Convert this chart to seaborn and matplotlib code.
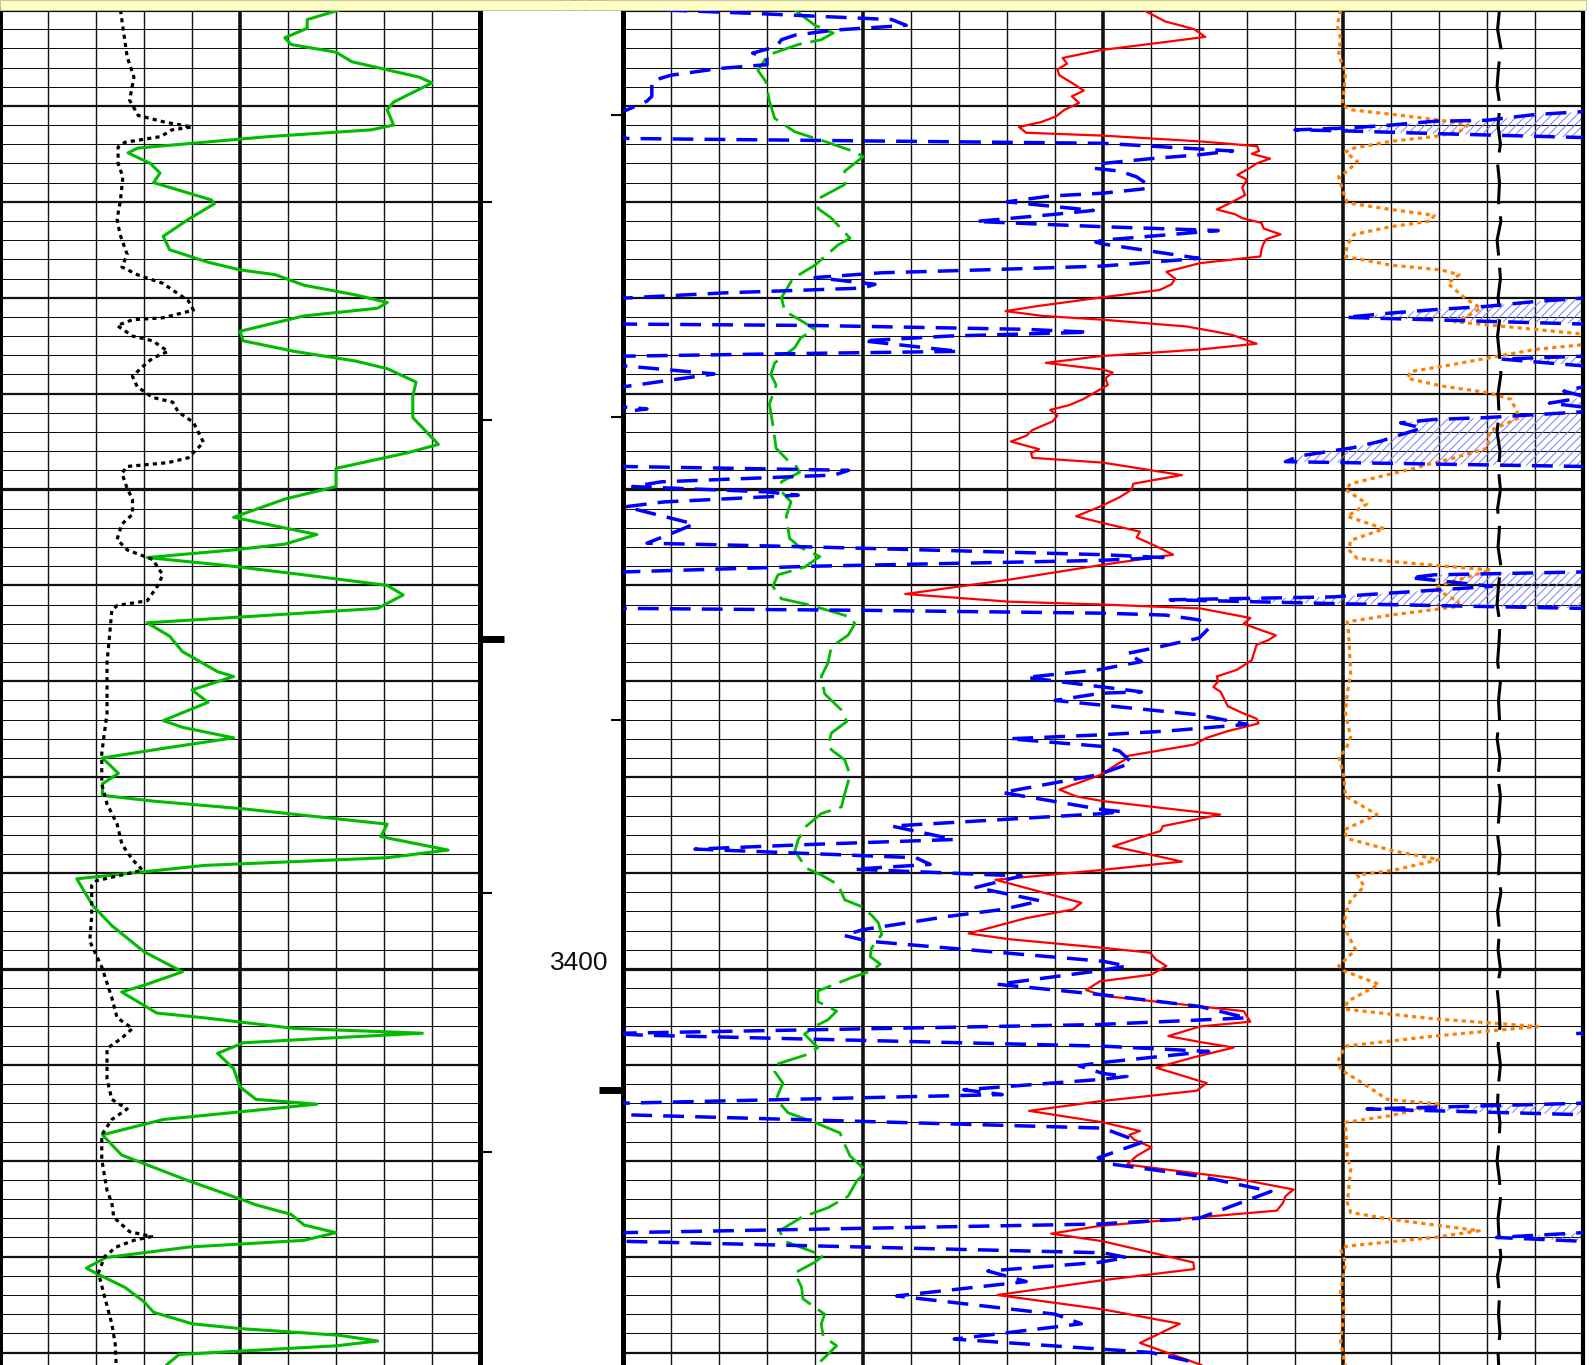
import numpy as np
import pandas as pd
import matplotlib
matplotlib.use("Agg")
import matplotlib.pyplot as plt
from matplotlib.patches import Rectangle
import seaborn as sns

sns.set_style("white")
plt.rcParams["font.family"] = ["Liberation Sans", "DejaVu Sans"]
plt.rcParams["hatch.linewidth"] = 0.7

TOP, BASE = 3300.0, 3441.3

# ---------------- Track 1: gamma ray (API 0-150) and caliper (in 6-16) ----------------
gr_log = [
    (3300.0, 106), (3301.0, 96), (3301.9, 96), (3302.9, 89), (3303.6, 91), (3304.4, 105),
    (3305.4, 110), (3307.0, 131), (3307.6, 135), (3309.6, 123), (3310.4, 121), (3312.0, 123),
    (3312.5, 116), (3313.2, 84), (3314.4, 43), (3314.9, 40), (3316.0, 47), (3317.0, 50),
    (3318.0, 48), (3319.8, 66), (3320.2, 67), (3321.8, 59), (3323.6, 51), (3325.0, 53),
    (3326.3, 65), (3327.1, 75), (3327.6, 86), (3328.7, 95), (3329.7, 111), (3330.5, 121),
    (3331.1, 118), (3331.9, 95), (3333.5, 75), (3334.5, 76), (3335.6, 92), (3336.6, 111),
    (3337.4, 121), (3338.8, 130), (3340.3, 129), (3342.5, 129), (3345.3, 137), (3346.2, 127),
    (3347.8, 105), (3349.7, 105), (3351.0, 89), (3352.9, 73), (3353.6, 83), (3354.7, 99),
    (3355.7, 89), (3356.3, 73), (3357.1, 46), (3357.9, 70), (3358.9, 95), (3360.0, 121),
    (3361.0, 126), (3362.4, 118), (3363.2, 80), (3363.9, 46), (3365.3, 53), (3366.9, 57),
    (3369.0, 68), (3369.5, 73), (3370.9, 60), (3372.2, 65), (3374.1, 51), (3374.8, 57),
    (3375.9, 73), (3377.0, 51), (3378.0, 32), (3379.6, 37), (3380.7, 32), (3381.9, 32),
    (3382.5, 48), (3383.3, 76), (3384.9, 121), (3386.2, 119), (3387.6, 140), (3388.4, 121),
    (3389.2, 64), (3390.6, 24), (3393.4, 29), (3395.5, 35), (3398.2, 45), (3400.3, 57),
    (3401.7, 45), (3402.4, 38), (3404.6, 49), (3405.1, 64), (3406.2, 92), (3406.7, 132),
    (3407.2, 103), (3407.7, 76), (3408.8, 68), (3410.4, 73), (3412.3, 75), (3413.6, 80),
    (3414.1, 99), (3415.7, 51), (3417.3, 32), (3419.4, 38), (3422.1, 59), (3424.1, 76),
    (3424.6, 80), (3425.6, 91), (3426.7, 95), (3427.5, 105), (3428.3, 95), (3429.0, 59),
    (3430.1, 33), (3431.2, 27), (3431.9, 31), (3433.2, 39), (3434.7, 45), (3435.8, 48),
    (3437.0, 60), (3437.5, 75), (3438.2, 106), (3438.8, 118), (3439.3, 105), (3440.2, 56),
    (3441.3, 52),
]

cal_log = [
    (3300.0, 8.51), (3301.8, 8.56), (3304.9, 8.65), (3307.0, 8.79), (3309.4, 8.70), (3311.0, 8.88),
    (3311.7, 9.44), (3312.2, 10.0), (3312.5, 9.58), (3313.2, 9.35), (3313.8, 8.60), (3314.3, 8.46),
    (3316.0, 8.46), (3317.4, 8.56), (3319.8, 8.51), (3321.8, 8.44), (3323.4, 8.50), (3325.5, 8.65),
    (3326.8, 8.54), (3327.6, 8.86), (3328.5, 9.39), (3330.3, 9.92), (3331.3, 10.03), (3332.1, 9.39),
    (3332.3, 8.76), (3332.9, 8.44), (3334.0, 8.76), (3334.5, 9.18), (3335.6, 9.50), (3336.3, 9.18),
    (3337.2, 8.97), (3338.2, 8.76), (3339.3, 8.86), (3340.4, 9.18), (3340.9, 9.60), (3341.9, 9.71),
    (3343.0, 10.03), (3345.1, 10.24), (3346.7, 9.92), (3347.2, 9.50), (3347.6, 8.65), (3348.3, 8.54),
    (3349.9, 8.65), (3351.0, 8.76), (3352.6, 8.76), (3353.6, 8.54), (3355.2, 8.44), (3356.3, 8.65),
    (3357.3, 9.18), (3358.9, 9.39), (3360.0, 9.29), (3361.6, 9.07), (3362.1, 8.44), (3362.6, 8.33),
    (3364.8, 8.29), (3368.0, 8.23), (3373.3, 8.23), (3377.5, 8.12), (3380.7, 8.12), (3382.8, 8.23),
    (3384.9, 8.44), (3387.0, 8.54), (3388.6, 8.76), (3389.7, 8.97), (3390.8, 8.01), (3391.3, 7.91),
    (3394.5, 7.91), (3397.1, 7.87), (3399.8, 8.12), (3403.0, 8.33), (3405.1, 8.44), (3406.2, 8.76),
    (3407.2, 8.54), (3408.3, 8.23), (3411.5, 8.23), (3413.6, 8.33), (3414.6, 8.65), (3415.7, 8.33),
    (3417.3, 8.12), (3419.9, 8.12), (3423.1, 8.23), (3424.4, 8.33), (3425.9, 8.37), (3427.4, 8.70),
    (3427.9, 9.16), (3428.3, 8.79), (3429.0, 8.42), (3430.0, 8.18), (3431.7, 8.05), (3434.2, 8.18),
    (3437.0, 8.33), (3439.1, 8.40), (3441.3, 8.42),
]

# ---------------- Track 2: 20 scale divisions ----------------
# red solid curve
red_log = [
    (3300.0, 10.84), (3301.2, 11.3), (3302.0, 11.9), (3302.8, 12.13), (3303.4, 11.2), (3304.2, 9.93),
    (3305.0, 9.16), (3305.6, 9.25), (3306.2, 9.05), (3306.8, 9.09), (3307.6, 9.35), (3308.4, 9.6),
    (3309.0, 9.35), (3309.4, 9.44), (3309.7, 9.5), (3310.4, 9.2), (3311.1, 9.02), (3311.7, 8.7),
    (3312.2, 8.25), (3312.8, 8.4), (3313.1, 10.0), (3313.7, 12.02), (3314.2, 13.21), (3314.7, 13.25),
    (3315.0, 13.1), (3315.5, 13.48), (3316.0, 13.2), (3316.5, 13.05), (3317.2, 12.8), (3317.7, 13.0),
    (3318.5, 12.9), (3319.3, 12.96), (3320.0, 12.7), (3320.8, 12.37), (3321.3, 12.75), (3321.7, 12.9),
    (3322.2, 13.3), (3322.8, 13.35), (3323.4, 13.7), (3323.9, 13.4), (3324.4, 13.34), (3325.0, 13.3),
    (3325.7, 13.28), (3326.4, 12.02), (3327.3, 11.32), (3328.0, 11.5), (3328.6, 11.43), (3329.2, 11.18),
    (3330.0, 9.93), (3330.9, 8.6), (3331.4, 7.97), (3331.9, 8.74), (3332.3, 10.0), (3333.0, 11.74),
    (3333.6, 12.4), (3333.9, 12.7), (3334.8, 13.2), (3335.4, 12.02), (3336.1, 9.93), (3336.8, 8.81),
    (3337.5, 10.0), (3337.8, 10.2), (3338.4, 10.05), (3339.1, 10.1), (3339.8, 9.86), (3340.6, 9.58),
    (3341.2, 9.3), (3341.7, 8.9), (3342.3, 9.05), (3342.9, 8.95), (3343.8, 8.53), (3344.4, 8.4),
    (3345.0, 8.08), (3345.8, 8.67), (3346.2, 8.5), (3346.7, 8.53), (3347.2, 10.0), (3348.5, 11.64),
    (3349.4, 10.63), (3350.0, 10.6), (3350.8, 10.35), (3351.8, 9.93), (3352.8, 9.44), (3353.5, 10.0),
    (3354.4, 10.77), (3355.0, 10.7), (3355.9, 11.1), (3356.8, 11.46), (3357.9, 9.93), (3359.4, 8.05),
    (3360.9, 5.88), (3361.7, 8.05), (3362.0, 10.0), (3362.4, 12.02), (3363.4, 13.07), (3364.0, 12.93),
    (3364.5, 13.2), (3365.2, 13.6), (3365.7, 13.45), (3366.2, 13.2), (3367.0, 13.15), (3367.8, 13.1),
    (3368.8, 12.79), (3369.5, 12.37), (3370.0, 12.4), (3370.6, 12.3), (3371.1, 12.45), (3371.6, 12.5),
    (3372.6, 12.6), (3373.3, 12.9), (3373.9, 13.2), (3374.4, 13.24), (3375.2, 12.6), (3375.9, 12.16),
    (3376.6, 11.9), (3377.8, 10.5), (3378.2, 10.45), (3378.7, 10.28), (3379.8, 9.93), (3381.3, 9.09),
    (3382.0, 9.44), (3382.5, 10.0), (3383.9, 12.44), (3385.1, 11.25), (3385.6, 11.2), (3387.2, 10.21),
    (3388.8, 11.64), (3389.7, 9.93), (3390.7, 7.76), (3393.1, 9.55), (3393.8, 9.37), (3394.7, 8.4),
    (3396.3, 7.2), (3396.9, 8.05), (3397.8, 10.0), (3398.3, 10.98), (3399.0, 11.1), (3399.7, 11.32),
    (3400.6, 11.0), (3401.3, 9.93), (3402.2, 9.65), (3402.8, 10.0), (3403.9, 12.02), (3404.4, 12.93),
    (3405.5, 13.07), (3406.0, 12.02), (3407.0, 11.36), (3407.6, 12.0), (3408.2, 12.72), (3409.2, 11.9),
    (3410.3, 11.11), (3411.9, 12.16), (3412.7, 11.95), (3413.8, 9.93), (3414.8, 8.46), (3416.0, 10.0),
    (3416.9, 10.77), (3417.3, 10.55), (3417.8, 10.65), (3418.6, 11.01), (3419.5, 10.7), (3420.4, 10.5),
    (3421.8, 12.72), (3423.0, 13.97), (3423.7, 13.8), (3424.4, 13.75), (3425.2, 13.62), (3426.8, 9.93),
    (3427.6, 8.92), (3428.4, 10.0), (3430.6, 11.88), (3431.3, 11.9), (3432.5, 9.93), (3434.0, 7.8),
    (3435.5, 10.0), (3437.0, 11.6), (3439.0, 10.77), (3441.3, 12.05),
]

# blue dashed curve; values below 0 wrap round to the right-hand side
blue_log = [
    (3300.0, 0.9), (3300.35, 2.7), (3301.0, 5.6), (3301.6, 5.9), (3302.1, 4.4), (3302.6, 3.6),
    (3303.1, 3.3), (3303.8, 3.2), (3304.5, 2.7), (3305.0, 3.0), (3305.7, 3.0), (3306.1, 2.0),
    (3306.8, 1.0), (3307.4, 0.6), (3308.2, 0.6), (3309.0, 0.6), (3309.5, 0.5), (3310.6, 0.0),
    (3310.9, -1.0), (3311.5, -2.0), (3311.6, -3.1), (3312.0, -4.0), (3312.3, -4.9), (3312.5, -6.0),
    (3312.6, -5.0), (3312.9, -3.0), (3313.3, 0.0), (3313.4, 0.1), (3313.9, 10.0), (3314.7, 12.7),
    (3315.1, 12.0), (3315.5, 11.0), (3316.0, 10.0), (3316.5, 9.8), (3316.8, 10.35), (3317.4, 10.7),
    (3318.1, 10.9), (3318.6, 10.95), (3319.1, 10.0), (3319.4, 8.9), (3320.0, 8.0), (3320.9, 9.8),
    (3321.35, 8.9), (3322.05, 7.35), (3322.6, 10.0), (3323.0, 12.4), (3324.0, 10.0), (3324.2, 9.85),
    (3324.4, 10.0), (3325.9, 12.0), (3326.7, 10.0), (3327.1, 7.5), (3327.4, 5.4), (3327.9, 4.0),
    (3328.6, 5.25), (3329.0, 5.0), (3329.5, 2.1), (3330.05, 0.0), (3330.4, -1.0), (3330.9, -2.0),
    (3331.25, -3.1), (3331.6, -4.0), (3332.05, -4.95), (3332.4, -2.5), (3332.75, 0.0), (3332.9, 4.0),
    (3333.3, 8.4), (3333.6, 9.7), (3334.0, 6.8), (3334.5, 5.0), (3335.6, 7.0), (3335.8, 4.0),
    (3336.1, 0.0), (3336.4, -1.7), (3337.1, 0.0), (3337.95, 1.9), (3339.3, 0.0), (3339.75, -0.4),
    (3340.2, -0.05), (3340.5, -0.1), (3341.0, -0.7), (3341.4, 0.0), (3341.6, 0.5), (3341.9, 0.0),
    (3342.5, -2.0), (3342.7, -3.1), (3343.05, -3.8), (3343.6, -3.35), (3344.6, -4.0), (3344.95, -4.2),
    (3345.65, -4.8), (3346.5, -5.9), (3347.1, -6.2), (3347.6, 0.0), (3348.0, 4.7), (3348.5, 4.4),
    (3349.2, 0.8), (3349.7, 0.2), (3350.25, 3.0), (3350.6, 3.65), (3351.3, 0.85), (3351.8, 0.05),
    (3353.6, 1.48), (3354.2, 1.2), (3355.6, 0.5), (3356.0, 4.0), (3356.8, 10.0), (3357.1, 11.25),
    (3357.4, 9.9), (3358.0, 4.0), (3358.6, 0.0), (3358.9, -3.1), (3359.2, -3.6), (3360.1, -1.9),
    (3360.5, -3.1), (3361.2, -5.2), (3361.5, -8.6), (3361.9, -5.2), (3362.4, 0.0), (3362.6, 5.0),
    (3362.9, 10.0), (3363.1, 11.3), (3363.6, 12.0), (3364.5, 12.2), (3365.5, 12.0), (3366.6, 11.0),
    (3367.1, 10.5), (3367.95, 10.8), (3368.8, 9.9), (3369.6, 8.4), (3370.6, 10.0), (3371.1, 10.8),
    (3371.25, 9.95), (3372.0, 9.0), (3372.5, 10.0), (3373.5, 12.0), (3374.5, 13.0), (3375.2, 11.3),
    (3375.6, 9.9), (3376.0, 8.05), (3376.8, 10.0), (3377.3, 10.35), (3378.5, 10.6), (3379.75, 9.9),
    (3381.6, 7.9), (3383.4, 10.0), (3383.6, 10.4), (3383.8, 10.0), (3385.1, 5.6), (3386.5, 6.9),
    (3387.0, 4.0), (3387.5, 1.5), (3388.4, 6.1), (3389.1, 6.4), (3389.6, 4.8), (3390.3, 8.3),
    (3391.5, 7.35), (3392.9, 8.7), (3393.8, 7.9), (3394.5, 6.8), (3395.9, 5.0), (3396.5, 4.6),
    (3397.1, 5.1), (3399.2, 10.0), (3399.7, 10.5), (3400.2, 9.9), (3401.6, 7.8), (3402.7, 10.0),
    (3403.9, 12.0), (3405.1, 13.0), (3405.8, 9.9), (3406.7, 0.0), (3406.75, -0.2), (3406.9, 0.4),
    (3408.05, 10.0), (3408.6, 12.2), (3409.8, 9.9), (3410.1, 9.5), (3410.9, 10.0), (3411.2, 10.5),
    (3411.5, 10.0), (3412.6, 7.1), (3413.1, 7.9), (3414.0, 0.0), (3414.6, -4.5), (3415.2, 0.0),
    (3416.6, 10.0), (3418.1, 10.8), (3419.7, 9.9), (3420.3, 10.1), (3421.6, 12.0), (3423.2, 13.5),
    (3426.0, 12.0), (3426.6, 9.9), (3427.5, 0.0), (3428.0, -1.8), (3428.4, 0.0), (3429.6, 10.0),
    (3430.1, 10.5), (3430.6, 9.9), (3431.5, 7.6), (3432.6, 8.4), (3434.1, 5.7), (3436.0, 9.0),
    (3437.0, 9.55), (3438.6, 6.9), (3439.65, 10.0), (3440.0, 11.0), (3440.9, 11.8), (3441.3, 12.0),
]

# green dashed curve
green_log = [
    (3300.0, 3.58), (3301.6, 4.0), (3302.4, 4.38), (3303.1, 4.13), (3303.6, 3.65), (3304.7, 3.02),
    (3306.3, 2.81), (3307.5, 2.98), (3309.5, 3.05), (3311.3, 3.16), (3312.7, 3.58), (3313.7, 4.2),
    (3314.8, 4.83), (3315.3, 5.0), (3316.1, 4.8), (3316.8, 4.62), (3318.2, 4.62), (3319.6, 4.1),
    (3320.7, 4.06), (3321.7, 4.34), (3323.8, 4.73), (3324.5, 4.48), (3326.6, 4.0), (3328.0, 3.54),
    (3330.0, 3.3), (3331.4, 3.37), (3332.6, 3.78), (3333.3, 3.99), (3334.2, 3.7), (3335.2, 3.58),
    (3336.8, 3.16), (3338.0, 3.08), (3339.1, 3.19), (3341.1, 3.05), (3343.2, 3.12), (3345.7, 3.19),
    (3346.9, 3.42), (3347.6, 3.61), (3348.2, 3.68), (3349.2, 3.3), (3350.2, 3.3), (3351.3, 3.5),
    (3352.8, 3.4), (3355.1, 3.47), (3356.0, 3.68), (3357.0, 4.1), (3358.1, 3.78), (3358.9, 3.23),
    (3360.1, 3.12), (3361.4, 3.3), (3362.0, 3.85), (3362.7, 4.34), (3363.3, 4.73), (3364.0, 4.83),
    (3365.2, 4.69), (3366.4, 4.34), (3368.1, 4.27), (3369.5, 4.13), (3371.3, 4.2), (3373.0, 4.55),
    (3374.2, 4.66), (3375.4, 4.34), (3376.8, 4.27), (3377.3, 4.38), (3378.2, 4.62), (3379.8, 4.73),
    (3381.7, 4.62), (3383.1, 4.55), (3383.8, 4.13), (3385.1, 3.82), (3386.5, 3.65), (3387.7, 3.58),
    (3389.5, 3.82), (3390.2, 4.13), (3391.2, 4.48), (3392.8, 4.62), (3393.5, 4.97), (3394.5, 5.2),
    (3395.2, 5.32), (3396.4, 5.39), (3397.8, 5.18), (3398.7, 5.15), (3399.5, 5.36), (3400.2, 5.18),
    (3400.9, 4.76), (3402.3, 4.06), (3403.4, 4.06), (3404.4, 4.45), (3405.3, 4.27), (3406.0, 3.99),
    (3406.8, 3.78), (3408.2, 4.06), (3408.9, 3.85), (3410.0, 3.16), (3410.7, 3.16), (3411.9, 3.33),
    (3413.6, 3.19), (3415.0, 3.44), (3416.0, 3.99), (3417.1, 4.52), (3418.3, 4.62), (3419.5, 4.73),
    (3421.1, 5.08), (3422.1, 4.87), (3423.7, 4.69), (3424.9, 4.27), (3425.9, 3.72), (3427.3, 3.26),
    (3428.4, 3.37), (3429.9, 4.17), (3430.6, 3.99), (3431.7, 3.58), (3433.2, 3.72), (3434.4, 3.75),
    (3436.0, 4.2), (3437.0, 4.13), (3438.3, 4.17), (3439.3, 4.45), (3441.0, 4.1), (3441.3, 4.05),
]

# orange dotted curve
orange_log = [
    (3300.0, 14.95), (3301.6, 14.88), (3303.0, 14.95), (3304.7, 14.91), (3306.4, 15.05), (3308.5, 15.02),
    (3309.9, 14.98), (3310.4, 15.16), (3310.9, 16.06), (3311.5, 17.04), (3312.0, 17.6), (3312.7, 17.42),
    (3313.2, 16.9), (3313.7, 15.99), (3314.4, 15.23), (3314.8, 15.05), (3315.8, 15.3), (3316.8, 15.09),
    (3317.4, 14.91), (3318.6, 14.98), (3319.6, 15.05), (3320.1, 15.09), (3320.8, 15.99), (3321.4, 16.9),
    (3322.0, 16.83), (3322.6, 15.99), (3323.4, 15.23), (3324.5, 15.09), (3325.7, 15.05), (3326.6, 15.99),
    (3327.1, 17.04), (3327.6, 17.42), (3328.5, 17.18), (3330.0, 17.53), (3331.1, 17.87), (3331.9, 17.6),
    (3332.5, 17.32), (3333.3, 18.99), (3333.8, 20.0), (3334.4, 20.3), (3334.9, 20.0), (3335.4, 18.99),
    (3337.0, 17.25), (3337.7, 16.41), (3338.4, 16.34), (3339.2, 17.04), (3339.9, 18.01), (3340.6, 18.5),
    (3342.5, 18.68), (3343.9, 18.05), (3345.7, 18.01), (3346.7, 17.32), (3347.4, 16.76), (3347.8, 16.48),
    (3348.3, 16.06), (3349.4, 15.16), (3350.0, 15.05), (3351.5, 15.5), (3352.8, 15.09), (3354.1, 15.86),
    (3355.3, 15.16), (3356.3, 15.12), (3357.2, 15.3), (3357.9, 16.9), (3358.4, 18.08), (3359.8, 17.14),
    (3360.3, 16.9), (3361.7, 17.4), (3362.2, 17.4), (3363.1, 15.99), (3363.8, 15.09), (3365.3, 15.12),
    (3369.2, 15.16), (3371.25, 15.09), (3373.3, 15.05), (3375.8, 15.16), (3377.2, 15.05), (3377.85, 14.91),
    (3379.9, 15.02), (3382.0, 15.05), (3383.9, 15.71), (3385.5, 15.02), (3386.4, 15.09), (3387.7, 16.06),
    (3388.6, 17.0), (3389.7, 16.06), (3390.2, 15.3), (3391.4, 15.44), (3392.8, 15.16), (3394.3, 15.05),
    (3395.6, 15.02), (3398.0, 15.26), (3399.7, 14.91), (3400.2, 15.02), (3401.6, 15.75), (3403.4, 15.09),
    (3404.2, 15.05), (3405.2, 16.9), (3406.0, 19.06), (3407.0, 16.9), (3408.05, 15.05), (3409.4, 14.91),
    (3410.5, 14.95), (3412.0, 15.44), (3413.6, 15.92), (3414.1, 17.04), (3415.3, 15.99), (3416.0, 15.05),
    (3419.5, 15.09), (3420.9, 15.16), (3424.4, 15.09), (3425.4, 15.16), (3426.1, 15.99), (3427.3, 17.84),
    (3428.0, 16.9), (3428.9, 15.09), (3429.2, 14.95), (3430.6, 15.05), (3433.75, 14.95), (3435.5, 15.02),
    (3439.0, 14.95), (3441.3, 15.05),
]

# black long-dash curve, one reading every 2 m from 3300 m
black_start, black_step = 3300, 2
black_div = [
    18.26, 18.22, 18.29, 18.24, 18.21, 18.27, 18.23, 18.28, 18.22, 18.26,
    18.24, 18.29, 18.21, 18.25, 18.28, 18.23, 18.27, 18.22, 18.26, 18.29,
    18.23, 18.25, 18.21, 18.27, 18.24, 18.28, 18.22, 18.26, 18.23, 18.29,
    18.24, 18.21, 18.27, 18.25, 18.22, 18.28, 18.24, 18.26, 18.21, 18.27,
    18.23, 18.28, 18.25, 18.22, 18.27, 18.24, 18.29, 18.22, 18.26, 18.23,
    18.28, 18.21, 18.25, 18.27, 18.23, 18.28, 18.24, 18.22, 18.27, 18.25,
    18.21, 18.26, 18.28, 18.23, 18.25, 18.29, 18.22, 18.26, 18.24, 18.27,
    18.23, 18.25,
]

# depth column annotations
depth_labels = [3300, 3400]
marks_left = [3320.0, 3342.8, 3392.1, 3419.1]
marks_right = [3311.0, 3342.4, 3374.0]
block_left = [3365.6]
block_right = [3412.6]


def frame(pairs, name):
    d, v = zip(*pairs)
    return pd.DataFrame({"depth": d, name: v})


def draw(ax, df, col, **kw):
    sns.lineplot(data=df, x=col, y="depth", orient="y", sort=False,
                 estimator=None, ax=ax, **kw)


W, H = 1596, 1365
fig = plt.figure(figsize=(W / 100, H / 100), dpi=100)


def rect(x0, x1):
    return [x0 / W, 0, (x1 - x0) / W, (H - 10) / H]


ax_l = fig.add_axes(rect(0, 480))
ax_d = fig.add_axes(rect(480, 623))
ax_r = fig.add_axes(rect(623, 1583))

GRID = "#111111"
grid_depths = np.arange(3300, 3442, 2)
for ax, xmax, step, major in ((ax_l, 150, 15, 75), (ax_r, 20, 1, 5)):
    ax.set_xlim(0, xmax)
    ax.set_ylim(BASE, TOP)
    for d in grid_depths:
        lw = 2.3 if d % 50 == 0 else (1.6 if d % 10 == 0 else 0.75)
        ax.axhline(d, color=GRID, lw=lw, zorder=1)
    for i in range(1, int(round(xmax / step))):
        x = i * step
        lw = 2.6 if (i * step) % major == 0 else 1.0
        ax.axvline(x, color=GRID, lw=lw, zorder=1)
    ax.set_xticks([])
    ax.set_yticks([])
    ax.spines["top"].set_visible(False)
    ax.spines["bottom"].set_visible(False)

ax_l.spines["left"].set_linewidth(4.3)
ax_l.spines["right"].set_linewidth(3.6)
ax_r.spines["left"].set_linewidth(3.6)
ax_r.spines["right"].set_linewidth(3.0)
for s in list(ax_l.spines.values()) + list(ax_r.spines.values()):
    s.set_color("black")

# ---- track 1 curves ----
gr = frame(gr_log, "gr")
draw(ax_l, gr, "gr", color="#00bb00", lw=2.2, zorder=4)

ax_c = ax_l.twiny()
ax_c.set_xlim(6, 16)
ax_c.set_ylim(BASE, TOP)
ax_c.axis("off")
cal = frame(cal_log, "cal")
draw(ax_c, cal, "cal", color="black", lw=2.3, linestyle=(0, (1.3, 1.3)), zorder=4)

# ---- track 2 curves ----
blue = frame(blue_log, "blue")
blue["wrap"] = blue["blue"] + 20
ax_r.fill_betweenx(blue["depth"], blue["wrap"], 20, where=blue["blue"] < 0,
                   interpolate=True, facecolor="none", edgecolor="#7b7bff",
                   hatch="////", linewidth=0, zorder=2)

green = frame(green_log, "green")
draw(ax_r, green, "green", color="#00bb00", lw=2.0, linestyle=(0, (11, 3.2)), zorder=4)

red = frame(red_log, "red")
draw(ax_r, red, "red", color="#ff0000", lw=1.6, zorder=4)

blue_dash = (0, (6, 3.2))
draw(ax_r, blue, "blue", color="#0000ff", lw=2.5, linestyle=blue_dash, zorder=5)
draw(ax_r, blue, "wrap", color="#0000ff", lw=2.5, linestyle=blue_dash, zorder=5)

orange = frame(orange_log, "orange")
draw(ax_r, orange, "orange", color="#ff8000", lw=2.3, linestyle=(0, (1.3, 1.3)), zorder=4)

black = pd.DataFrame({"depth": black_start + black_step * np.arange(len(black_div)),
                      "cut": black_div})
draw(ax_r, black, "cut", color="black", lw=2.2, linestyle=(0, (13, 4)), zorder=4)

for ax in (ax_l, ax_r, ax_c):
    ax.set_xlabel("")
    ax.set_ylabel("")
ax_l.set_xlim(0, 150)
ax_r.set_xlim(0, 20)
for ax in (ax_l, ax_r, ax_c):
    ax.set_ylim(BASE, TOP)

# ---- depth column ----
ax_d.set_xlim(0, 143)
ax_d.set_ylim(BASE, TOP)
ax_d.axis("off")
for d in depth_labels:
    ax_d.text(128, d + 0.15, str(d), ha="right", va="baseline", fontsize=19,
              color="#111111", clip_on=False, zorder=3)
ax_d.hlines(marks_left, 0, 12, colors="black", lw=1.5)
ax_d.hlines(marks_right, 131, 143, colors="black", lw=1.5)
ax_d.hlines(block_left, 0, 24, colors="black", lw=5)
ax_d.hlines(block_right, 119, 143, colors="black", lw=5)

# header strip
fig.add_artist(Rectangle((0, 1 - 9.5 / H), 1586 / W, 9.5 / H, transform=fig.transFigure,
                         facecolor="#ffffc4", edgecolor="#bdbd9a", linewidth=0.6, zorder=10))

fig.savefig("out.png", dpi=100, facecolor="white")
